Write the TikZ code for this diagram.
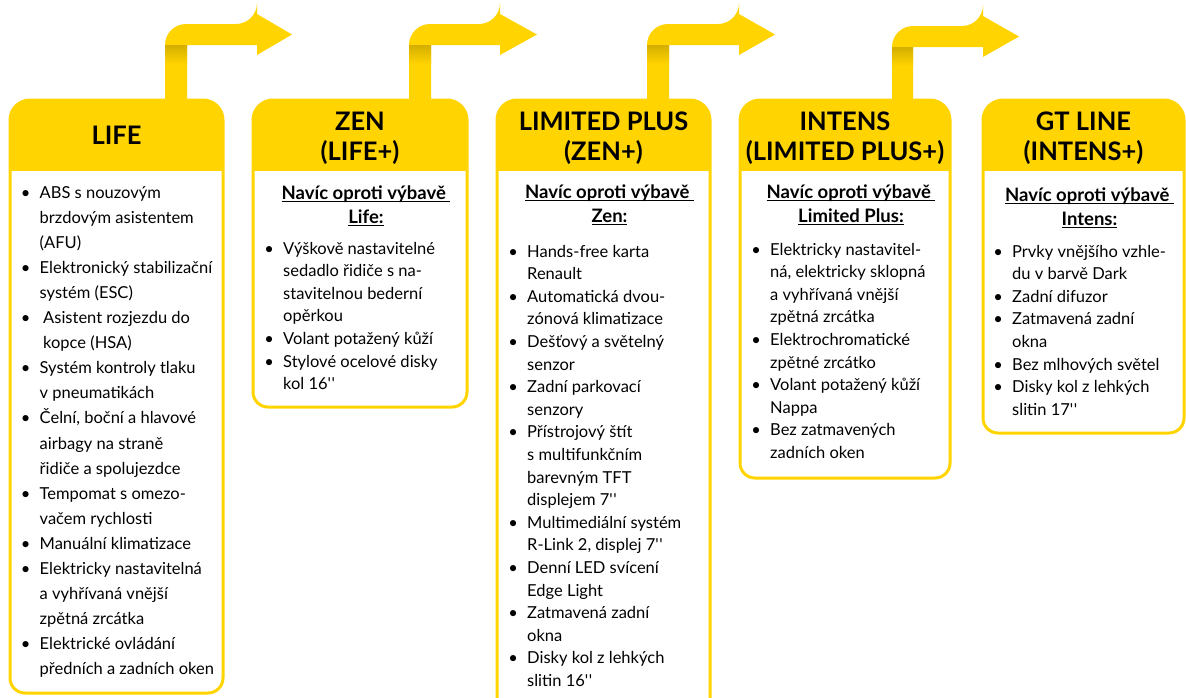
\documentclass[tikz,border=0pt]{standalone}
\usepackage{fontspec}
\setmainfont{Lato}
\definecolor{ylw}{RGB}{255,212,0}
\definecolor{ylwd}{RGB}{212,174,0}
\newcommand\undl[1]{\sbox0{#1}\usebox0\llap{\rule[-2.8pt]{\wd0}{1.2pt}}}
\newcommand\bul{\llap{\makebox[0pt][c]{\textbullet}\hspace{14pt}}}
\newcommand\inch{\textquotesingle\kern0.5pt\textquotesingle}
\begin{document}
\begin{tikzpicture}[x=1pt,y=-1pt,
  border/.style={draw=ylw,line width=3pt},
  hdr/.style={font=\fontsize{25.5}{30}\selectfont\bfseries,inner sep=0pt,anchor=base},
  sub/.style={font=\fontsize{18.5}{24.5}\selectfont\bfseries,inner sep=0pt,anchor=base},
  bodyA/.style={font=\fontsize{16.5}{25.1}\selectfont,inner sep=0pt,anchor=base west},
  bodyB/.style={font=\fontsize{16.5}{22.6}\selectfont,inner sep=0pt,anchor=base west}]
\useasboundingbox (0,0) rectangle (1186,697);
\clip (0,0) rectangle (1186,697);
% boxes
\foreach \L/\R/\B in {10/223/693,253/467/407,497/710/720,740/950/478,983/1184/433}{
  \begin{scope}
    \clip (\L,140) [rounded corners=20pt] -- (\L,100) -- (\R,100) -- (\R,140) [rounded corners=15pt] -- (\R,\B) -- (\L,\B) -- cycle;
    \fill[white] (\L,90) rectangle (\R,\B+5);
    \fill[ylw] (\L,90) rectangle (\R,171);
  \end{scope}
  \draw[border] (\L,140) [rounded corners=20pt] -- (\L,100) -- (\R,100) -- (\R,140) [rounded corners=15pt] -- (\R,\B) -- (\L,\B) -- cycle;
}
% arrows
\foreach \sl/\sr/\bt/\hb/\tip in {165/187/24/257/292,409/431/24/500/537,647/669/24/739/775,892/913/26/983/1019}{
  \fill[ylw] (\sl,102) [rounded corners=21pt] -- (\sl,\bt) -- (\hb,\bt) [sharp corners] -- (\hb,\bt-10) -- (\tip,\bt+10.5) -- (\hb,\bt+31) -- (\hb,\bt+21) -- (\sr,\bt+21) -- (\sr,102) -- cycle;
  \shade[top color=ylwd,bottom color=ylw] (\sl,\bt+21) rectangle (\sr,\bt+40);
}
% headers
\node[hdr] (h1) at (116.5,144) {LIFE};
\node[hdr] (h2) at (360,130) {\begin{tabular}[t]{@{}c@{}}ZEN\\(LIFE+)\end{tabular}};
\node[hdr] (h3) at (603.5,130) {\begin{tabular}[t]{@{}c@{}}LIMITED PLUS\\(ZEN+)\end{tabular}};
\node[hdr] (h4) at (845,130) {\begin{tabular}[t]{@{}c@{}}INTENS\\(LIMITED PLUS+)\end{tabular}};
\node[hdr] (h5) at (1083.5,130) {\begin{tabular}[t]{@{}c@{}}GT LINE\\(INTENS+)\end{tabular}};
% subtitles
\node[sub] (s2) at (366,199) {\begin{tabular}[t]{@{}c@{}}\undl{Navíc oproti výbavě\ }\\\undl{Life:}\end{tabular}};
\node[sub] (s3) at (609.5,198) {\begin{tabular}[t]{@{}c@{}}\undl{Navíc oproti výbavě\ }\\\undl{Zen:}\end{tabular}};
\node[sub] (s4) at (851,198) {\begin{tabular}[t]{@{}c@{}}\undl{Navíc oproti výbavě\ }\\\undl{Limited Plus:}\end{tabular}};
\node[sub] (s5) at (1089.5,201) {\begin{tabular}[t]{@{}c@{}}\undl{Navíc oproti výbavě\ }\\\undl{Intens:}\end{tabular}};
% bodies
\node[bodyA] (b1) at (39.5,198) {\begin{tabular}[t]{@{}l@{}}
\bul ABS s nouzovým\\
brzdovým asistentem\\
(AFU)\\
\bul Elektronický stabilizační\\
systém (ESC)\\
\bul\hspace{3.5pt}Asistent rozjezdu do\\
\hspace{3.5pt}kopce (HSA)\\
\bul Systém kontroly tlaku\\
v pneumatikách\\
\bul Čelní, boční a hlavové\\
airbagy na straně\\
řidiče a spolujezdce\\
\bul Tempomat s omezo-\\
vačem rychlosti\\
\bul Manuální klimatizace\\
\bul Elektricky nastavitelná\\
a vyhřívaná vnější\\
zpětná zrcátka\\
\bul Elektrické ovládání\\
předních a zadních oken
\end{tabular}};
\node[bodyB] (b2) at (283,254) {\begin{tabular}[t]{@{}l@{}}
\bul Výškově nastavitelné\\
sedadlo řidiče s na-\\
stavitelnou bederní\\
opěrkou\\
\bul Volant potažený kůží\\
\bul Stylové ocelové disky\\
kol 16\inch
\end{tabular}};
\node[bodyB] (b3) at (527,257) {\begin{tabular}[t]{@{}l@{}}
\bul Hands-free karta\\
Renault\\
\bul Automatická dvou-\\
zónová klimatizace\\
\bul Dešťový a světelný\\
senzor\\
\bul Zadní parkovací\\
senzory\\
\bul Přístrojový štít\\
s multifunkčním\\
barevným TFT\\
displejem 7\inch\\
\bul Multimediální systém\\
R-Link 2, displej 7\inch\\
\bul Denní LED svícení\\
Edge Light\\
\bul Zatmavená zadní\\
okna\\
\bul Disky kol z lehkých\\
slitin 16\inch
\end{tabular}};
\node[bodyB] (b4) at (770,255) {\begin{tabular}[t]{@{}l@{}}
\bul Elektricky nastavitel-\\
ná, elektricky sklopná\\
a vyhřívaná vnější\\
zpětná zrcátka\\
\bul Elektrochromatické\\
zpětné zrcátko\\
\bul Volant potažený kůží\\
Nappa\\
\bul Bez zatmavených\\
zadních oken
\end{tabular}};
\node[bodyB] (b5) at (1012,257) {\begin{tabular}[t]{@{}l@{}}
\bul Prvky vnějšího vzhle-\\
du v barvě Dark\\
\bul Zadní difuzor\\
\bul Zatmavená zadní\\
okna\\
\bul Bez mlhových světel\\
\bul Disky kol z lehkých\\
slitin 17\inch
\end{tabular}};
\end{tikzpicture}
\end{document}
